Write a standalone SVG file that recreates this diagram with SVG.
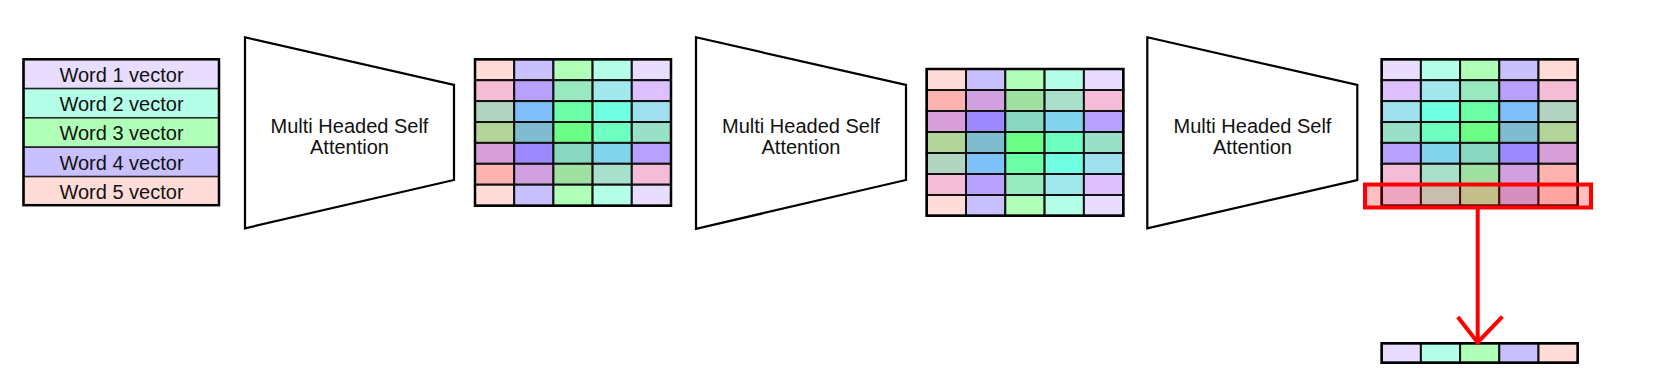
<svg xmlns="http://www.w3.org/2000/svg" width="1654" height="388" viewBox="0 0 1654 388">
<style>
.txt{font-family:"Liberation Sans",Arial,sans-serif;font-size:20px;fill:#111;text-anchor:middle}
.trap{fill:#fff;stroke:#000;stroke-width:2.2}
.c{stroke:#111;stroke-width:2}
.w{stroke:#222;stroke-width:1.5}
.box{fill:none;stroke:#000;stroke-width:2.5}
.red{stroke:#ff0000;stroke-width:4;fill:none;stroke-linecap:square}
</style>
<rect width="1654" height="388" fill="#fff"/>

<g id="words">
  <rect class="w" x="23.5" y="59.3" width="195.5" height="29.3" fill="#e8dcff"/>
  <rect class="w" x="23.5" y="88.6" width="195.5" height="29.2" fill="#b3ffe8"/>
  <rect class="w" x="23.5" y="117.8" width="195.5" height="29.4" fill="#b0ffb8"/>
  <rect class="w" x="23.5" y="147.2" width="195.5" height="29.4" fill="#c8c0ff"/>
  <rect class="w" x="23.5" y="176.6" width="195.5" height="28.6" fill="#ffdcd8"/>
  <rect class="box" x="23.5" y="59.3" width="195.5" height="145.9"/>
  <text class="txt" x="121.5" y="81.5">Word 1 vector</text>
  <text class="txt" x="121.5" y="110.5">Word 2 vector</text>
  <text class="txt" x="121.5" y="140">Word 3 vector</text>
  <text class="txt" x="121.5" y="169.5">Word 4 vector</text>
  <text class="txt" x="121.5" y="198.5">Word 5 vector</text>
</g>

<g id="mhsa1">
  <polygon class="trap" points="245,37.3 454,85 454,180 245,228.3"/>
  <text class="txt" x="349.5" y="133.3">Multi Headed Self</text>
  <text class="txt" x="349.5" y="153.5">Attention</text>
</g>

<g id="grid1">
  <g class="c">
    <rect x="475" y="59.3" width="39.2" height="20.9" fill="#ffdcd8"/><rect x="514.2" y="59.3" width="39.2" height="20.9" fill="#c8c0ff"/><rect x="553.4" y="59.3" width="39.2" height="20.9" fill="#b0ffb8"/><rect x="592.6" y="59.3" width="39.2" height="20.9" fill="#b3ffe8"/><rect x="631.8" y="59.3" width="39.2" height="20.9" fill="#e8dcff"/>
    <rect x="475" y="80.2" width="39.2" height="20.9" fill="#f5bcd5"/><rect x="514.2" y="80.2" width="39.2" height="20.9" fill="#b8a0ff"/><rect x="553.4" y="80.2" width="39.2" height="20.9" fill="#98e8c0"/><rect x="592.6" y="80.2" width="39.2" height="20.9" fill="#a0e8ec"/><rect x="631.8" y="80.2" width="39.2" height="20.9" fill="#dcc0ff"/>
    <rect x="475" y="101.1" width="39.2" height="20.9" fill="#b3d4c0"/><rect x="514.2" y="101.1" width="39.2" height="20.9" fill="#80c0f8"/><rect x="553.4" y="101.1" width="39.2" height="20.9" fill="#6cffa8"/><rect x="592.6" y="101.1" width="39.2" height="20.9" fill="#70ffe0"/><rect x="631.8" y="101.1" width="39.2" height="20.9" fill="#a0e0ee"/>
    <rect x="475" y="122" width="39.2" height="20.9" fill="#b3d498"/><rect x="514.2" y="122" width="39.2" height="20.9" fill="#80bcd0"/><rect x="553.4" y="122" width="39.2" height="20.9" fill="#6cff88"/><rect x="592.6" y="122" width="39.2" height="20.9" fill="#6cffc0"/><rect x="631.8" y="122" width="39.2" height="20.9" fill="#98e0c8"/>
    <rect x="475" y="142.9" width="39.2" height="20.9" fill="#d8a0d8"/><rect x="514.2" y="142.9" width="39.2" height="20.9" fill="#9c88ff"/><rect x="553.4" y="142.9" width="39.2" height="20.9" fill="#88d8c0"/><rect x="592.6" y="142.9" width="39.2" height="20.9" fill="#80d4ec"/><rect x="631.8" y="142.9" width="39.2" height="20.9" fill="#b8a0ff"/>
    <rect x="475" y="163.8" width="39.2" height="20.9" fill="#ffb3b0"/><rect x="514.2" y="163.8" width="39.2" height="20.9" fill="#d0a0e0"/><rect x="553.4" y="163.8" width="39.2" height="20.9" fill="#a0e0a0"/><rect x="592.6" y="163.8" width="39.2" height="20.9" fill="#a8e0cc"/><rect x="631.8" y="163.8" width="39.2" height="20.9" fill="#f5bcd8"/>
    <rect x="475" y="184.7" width="39.2" height="21" fill="#ffdcd8"/><rect x="514.2" y="184.7" width="39.2" height="21" fill="#c8c0ff"/><rect x="553.4" y="184.7" width="39.2" height="21" fill="#b0ffb8"/><rect x="592.6" y="184.7" width="39.2" height="21" fill="#b3ffe8"/><rect x="631.8" y="184.7" width="39.2" height="21" fill="#e8dcff"/>
  </g>
  <rect class="box" x="475" y="59.3" width="196" height="146.4"/>
</g>

<g id="mhsa2">
  <polygon class="trap" points="696,37.3 906,85 906,180 696,228.8"/>
  <text class="txt" x="801" y="133.3">Multi Headed Self</text>
  <text class="txt" x="801" y="153.5">Attention</text>
</g>

<g id="grid2">
  <g class="c">
    <rect x="926.7" y="69" width="39.3" height="21" fill="#ffdcd8"/><rect x="966" y="69" width="39.3" height="21" fill="#c8c0ff"/><rect x="1005.3" y="69" width="39.3" height="21" fill="#b0ffb8"/><rect x="1044.6" y="69" width="39.3" height="21" fill="#b3ffe8"/><rect x="1083.9" y="69" width="39.4" height="21" fill="#e8dcff"/>
    <rect x="926.7" y="90" width="39.3" height="21" fill="#ffb3b0"/><rect x="966" y="90" width="39.3" height="21" fill="#d0a0e0"/><rect x="1005.3" y="90" width="39.3" height="21" fill="#a0e0a0"/><rect x="1044.6" y="90" width="39.3" height="21" fill="#a8e0cc"/><rect x="1083.9" y="90" width="39.4" height="21" fill="#f5bcd8"/>
    <rect x="926.7" y="111" width="39.3" height="21" fill="#d8a0d8"/><rect x="966" y="111" width="39.3" height="21" fill="#9c88ff"/><rect x="1005.3" y="111" width="39.3" height="21" fill="#88d8c0"/><rect x="1044.6" y="111" width="39.3" height="21" fill="#80d4ec"/><rect x="1083.9" y="111" width="39.4" height="21" fill="#b8a0ff"/>
    <rect x="926.7" y="132" width="39.3" height="21" fill="#b3d498"/><rect x="966" y="132" width="39.3" height="21" fill="#80bcd0"/><rect x="1005.3" y="132" width="39.3" height="21" fill="#6cff88"/><rect x="1044.6" y="132" width="39.3" height="21" fill="#6cffc0"/><rect x="1083.9" y="132" width="39.4" height="21" fill="#98e0c8"/>
    <rect x="926.7" y="153" width="39.3" height="21" fill="#b3d4c0"/><rect x="966" y="153" width="39.3" height="21" fill="#80c0f8"/><rect x="1005.3" y="153" width="39.3" height="21" fill="#6cffa8"/><rect x="1044.6" y="153" width="39.3" height="21" fill="#70ffe0"/><rect x="1083.9" y="153" width="39.4" height="21" fill="#a0e0ee"/>
    <rect x="926.7" y="174" width="39.3" height="21" fill="#f5bcd5"/><rect x="966" y="174" width="39.3" height="21" fill="#b8a0ff"/><rect x="1005.3" y="174" width="39.3" height="21" fill="#98e8c0"/><rect x="1044.6" y="174" width="39.3" height="21" fill="#a0e8ec"/><rect x="1083.9" y="174" width="39.4" height="21" fill="#dcc0ff"/>
    <rect x="926.7" y="195" width="39.3" height="20.7" fill="#ffdcd8"/><rect x="966" y="195" width="39.3" height="20.7" fill="#c8c0ff"/><rect x="1005.3" y="195" width="39.3" height="20.7" fill="#b0ffb8"/><rect x="1044.6" y="195" width="39.3" height="20.7" fill="#b3ffe8"/><rect x="1083.9" y="195" width="39.4" height="20.7" fill="#e8dcff"/>
  </g>
  <rect class="box" x="926.7" y="69" width="196.6" height="146.7"/>
</g>

<g id="mhsa3">
  <polygon class="trap" points="1147.3,37.3 1357.3,85 1357.3,180 1147.3,228.3"/>
  <text class="txt" x="1252.5" y="133.3">Multi Headed Self</text>
  <text class="txt" x="1252.5" y="153.5">Attention</text>
</g>

<g id="grid3">
  <g class="c">
    <rect x="1381.7" y="59.3" width="39.2" height="20.9" fill="#e8dcff"/><rect x="1420.9" y="59.3" width="39.2" height="20.9" fill="#b3ffe8"/><rect x="1460.1" y="59.3" width="39.2" height="20.9" fill="#b0ffb8"/><rect x="1499.3" y="59.3" width="39.2" height="20.9" fill="#c8c0ff"/><rect x="1538.5" y="59.3" width="39.2" height="20.9" fill="#ffdcd8"/>
    <rect x="1381.7" y="80.2" width="39.2" height="20.9" fill="#dcc0ff"/><rect x="1420.9" y="80.2" width="39.2" height="20.9" fill="#a0e8ec"/><rect x="1460.1" y="80.2" width="39.2" height="20.9" fill="#98e8c0"/><rect x="1499.3" y="80.2" width="39.2" height="20.9" fill="#b8a0ff"/><rect x="1538.5" y="80.2" width="39.2" height="20.9" fill="#f5bcd5"/>
    <rect x="1381.7" y="101.1" width="39.2" height="20.9" fill="#a0e0ee"/><rect x="1420.9" y="101.1" width="39.2" height="20.9" fill="#70ffe0"/><rect x="1460.1" y="101.1" width="39.2" height="20.9" fill="#6cffa8"/><rect x="1499.3" y="101.1" width="39.2" height="20.9" fill="#80c0f8"/><rect x="1538.5" y="101.1" width="39.2" height="20.9" fill="#b3d4c0"/>
    <rect x="1381.7" y="122" width="39.2" height="20.9" fill="#98e0c8"/><rect x="1420.9" y="122" width="39.2" height="20.9" fill="#6cffc0"/><rect x="1460.1" y="122" width="39.2" height="20.9" fill="#6cff88"/><rect x="1499.3" y="122" width="39.2" height="20.9" fill="#80bcd0"/><rect x="1538.5" y="122" width="39.2" height="20.9" fill="#b3d498"/>
    <rect x="1381.7" y="142.9" width="39.2" height="20.9" fill="#b8a0ff"/><rect x="1420.9" y="142.9" width="39.2" height="20.9" fill="#80d4ec"/><rect x="1460.1" y="142.9" width="39.2" height="20.9" fill="#88d8c0"/><rect x="1499.3" y="142.9" width="39.2" height="20.9" fill="#9c88ff"/><rect x="1538.5" y="142.9" width="39.2" height="20.9" fill="#d8a0d8"/>
    <rect x="1381.7" y="163.8" width="39.2" height="20.9" fill="#f5bcd8"/><rect x="1420.9" y="163.8" width="39.2" height="20.9" fill="#a8e0cc"/><rect x="1460.1" y="163.8" width="39.2" height="20.9" fill="#a0e0a0"/><rect x="1499.3" y="163.8" width="39.2" height="20.9" fill="#d0a0e0"/><rect x="1538.5" y="163.8" width="39.2" height="20.9" fill="#ffb3b0"/>
    <rect x="1381.7" y="184.7" width="39.2" height="21" fill="#e8dcff"/><rect x="1420.9" y="184.7" width="39.2" height="21" fill="#b3ffe8"/><rect x="1460.1" y="184.7" width="39.2" height="21" fill="#b0ffb8"/><rect x="1499.3" y="184.7" width="39.2" height="21" fill="#c8c0ff"/><rect x="1538.5" y="184.7" width="39.2" height="21" fill="#ffdcd8"/>
  </g>
  <rect class="box" x="1381.7" y="59.3" width="196" height="146.4"/>
  <rect id="highlight" x="1365" y="184.5" width="226" height="23" fill="#ff0000" fill-opacity="0.25" stroke="#ff0000" stroke-width="4"/>
</g>

<g id="output">
  <g class="c">
    <rect x="1381.7" y="343.3" width="39.2" height="19.4" fill="#e8dcff"/><rect x="1420.9" y="343.3" width="39.2" height="19.4" fill="#b3ffe8"/><rect x="1460.1" y="343.3" width="39.2" height="19.4" fill="#b0ffb8"/><rect x="1499.3" y="343.3" width="39.2" height="19.4" fill="#c8c0ff"/><rect x="1538.5" y="343.3" width="39.2" height="19.4" fill="#ffdcd8"/>
  </g>
  <rect class="box" x="1381.7" y="343.3" width="196" height="19.4"/>
</g>

<g id="connectors">
  <line class="red" x1="1477.7" y1="209" x2="1477.7" y2="342"/>
  <polyline class="red" stroke-linecap="butt" points="1459,318.5 1477.7,342.5 1501,318"/>
</g>
</svg>
